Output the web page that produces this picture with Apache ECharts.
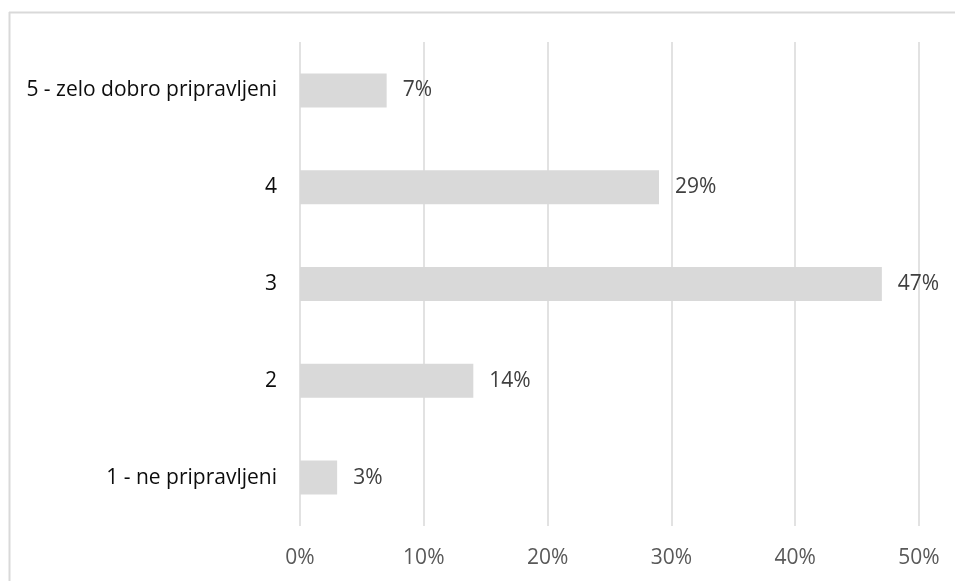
<!DOCTYPE html>
<html>
<head>
<meta charset="utf-8">
<script src="https://cdn.jsdelivr.net/npm/echarts@6/dist/echarts.min.js"></script>
<style>
html,body{margin:0;padding:0;background:#fff;}
#chart{width:955px;height:581px;}
</style>
</head>
<body>
<div id="chart"></div>
<script>
const categories = ['1 - ne pripravljeni', '2', '3', '4', '5 - zelo dobro pripravljeni'];
const values = [3, 14, 47, 29, 7];
const xTicks = [0, 10, 20, 30, 40, 50];

const chart = echarts.init(document.getElementById('chart'));
const font = '"Open Sans", "Noto Sans", sans-serif';
chart.setOption({
  animation: false,
  backgroundColor: '#fff',
  graphic: [
    {type: 'line', shape: {x1: 9, y1: 12.5, x2: 955, y2: 12.5}, style: {stroke: '#d9d9d9', lineWidth: 2}},
    {type: 'line', shape: {x1: 9.5, y1: 12, x2: 9.5, y2: 581}, style: {stroke: '#d9d9d9', lineWidth: 2}}
  ],
  grid: {left: 300, right: 36, top: 42, bottom: 55, containLabel: false},
  xAxis: {
    type: 'value', min: 0, max: 50, interval: 10,
    axisLine: {show: false}, axisTick: {show: false},
    splitLine: {lineStyle: {color: '#d9d9d9', width: 1.5}},
    axisLabel: {color: '#595959', fontSize: 21, fontFamily: font, margin: 22, formatter: v => v + '%'}
  },
  yAxis: {
    type: 'category', data: categories,
    axisLine: {show: false}, axisTick: {show: false},
    axisLabel: {color: '#0d0d0d', fontSize: 21, fontFamily: font, margin: 23}
  },
  series: [{
    type: 'bar', data: values, barWidth: 34,
    itemStyle: {color: '#d9d9d9'},
    label: {show: true, position: 'right', distance: 16, color: '#404040', fontSize: 21, fontFamily: font, formatter: p => p.value + '%'}
  }]
});
</script>
</body>
</html>
